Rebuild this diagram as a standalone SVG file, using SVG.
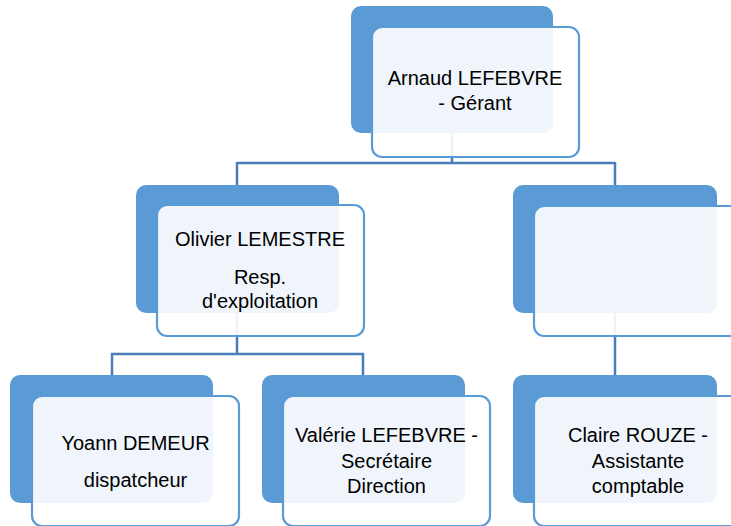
<svg xmlns="http://www.w3.org/2000/svg" width="731" height="526" viewBox="0 0 731 526">
<style>
.back{fill:#5b9bd5;}
.front{fill:#ffffff;fill-opacity:0.9;stroke:#5b9bd5;stroke-width:2.2;}
.conn{stroke:#4a7ebb;stroke-width:2.5;fill:none;}
text{font-family:"Liberation Sans",Arial,sans-serif;font-size:20px;fill:#000;text-anchor:middle;}
</style>
<rect width="731" height="526" fill="#ffffff"/>
<g id="connectors">
<path class="conn" d="M452 130 V163 M237 163 H615 M237 162 V186 M615 162 V186"/>
<path class="conn" d="M237 310 V354 M111 354 H364 M112 353 V376 M363 353 V376"/>
<path class="conn" d="M615 310 V376"/>
</g>
<g id="n-arnaud">
<rect class="back" x="351" y="6" width="202" height="127" rx="10"/>
<rect class="front" x="372" y="27" width="207" height="130" rx="10"/>
<text x="475" y="85">Arnaud LEFEBVRE</text>
<text x="475" y="110">- Gérant</text>
</g>
<g id="n-olivier">
<rect class="back" x="136" y="185" width="203" height="128" rx="10"/>
<rect class="front" x="157" y="205" width="207" height="131" rx="10"/>
<text x="260" y="246">Olivier LEMESTRE</text>
<text x="260" y="284">Resp.</text>
<text x="260" y="308">d'exploitation</text>
</g>
<g id="n-empty">
<rect class="back" x="513" y="185" width="204" height="128" rx="10"/>
<rect class="front" x="534" y="206" width="207" height="130" rx="10"/>
</g>
<g id="n-yoann">
<rect class="back" x="10" y="375" width="203" height="128" rx="10"/>
<rect class="front" x="32" y="396" width="207" height="130" rx="10"/>
<text x="135.5" y="450">Yoann DEMEUR</text>
<text x="135.5" y="487">dispatcheur</text>
</g>
<g id="n-valerie">
<rect class="back" x="262" y="375" width="203" height="128" rx="10"/>
<rect class="front" x="283" y="396" width="207" height="130" rx="10"/>
<text x="386.5" y="442">Valérie LEFEBVRE -</text>
<text x="386.5" y="468">Secrétaire</text>
<text x="386.5" y="493">Direction</text>
</g>
<g id="n-claire">
<rect class="back" x="513" y="375" width="204" height="128" rx="10"/>
<rect class="front" x="534" y="396" width="207" height="130" rx="10"/>
<text x="638" y="442">Claire ROUZE -</text>
<text x="638" y="468">Assistante</text>
<text x="638" y="493">comptable</text>
</g>
</svg>
